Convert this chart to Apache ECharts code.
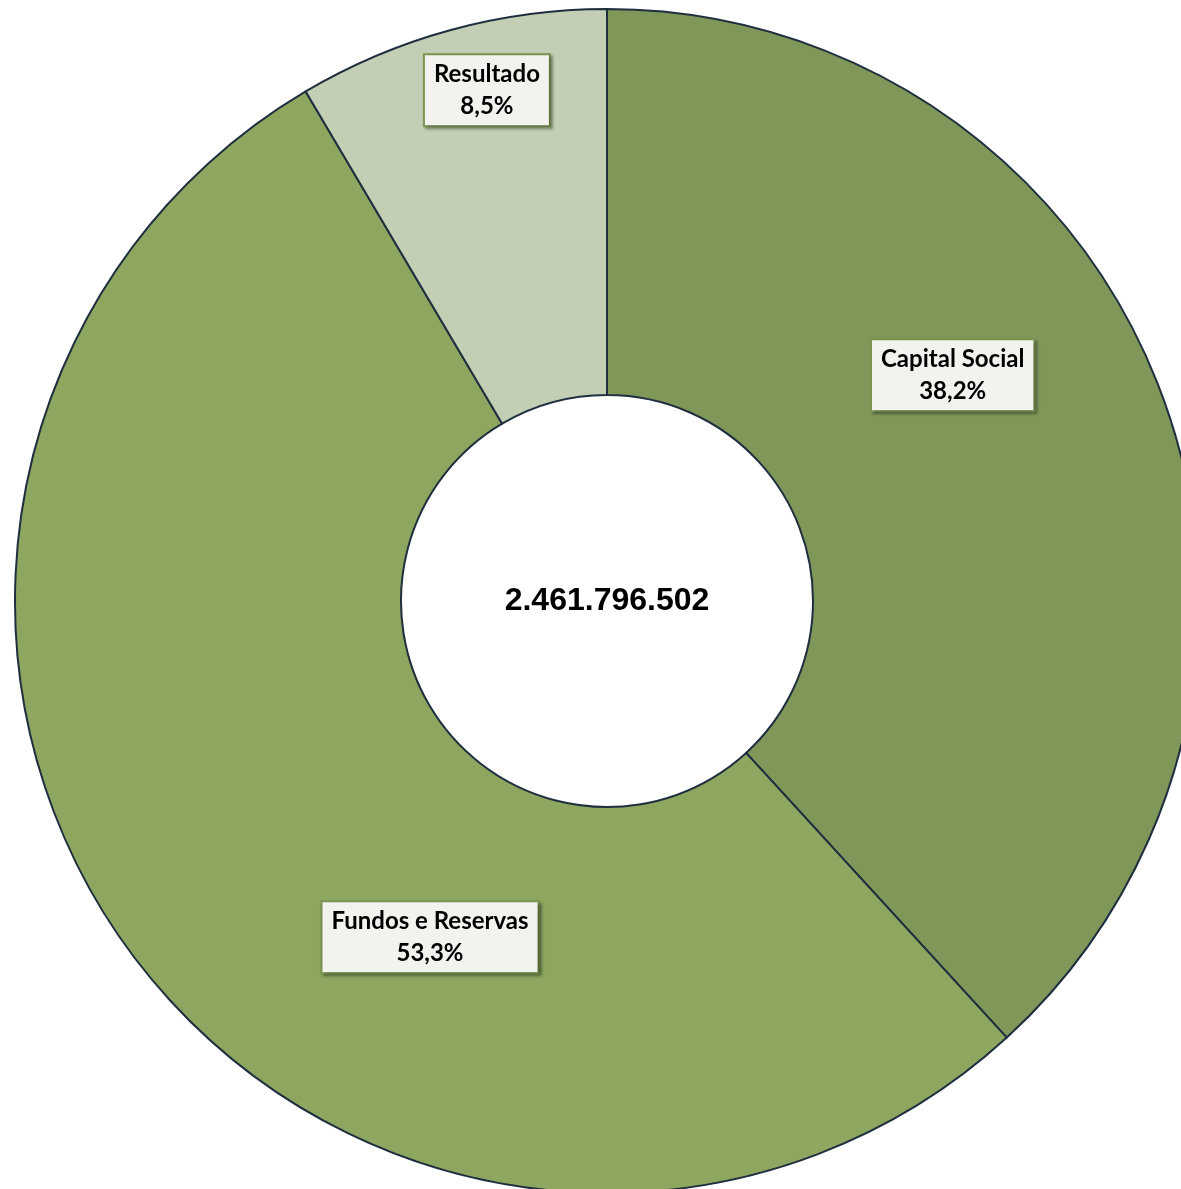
<!DOCTYPE html>
<html>
<head>
<meta charset="utf-8">
<style>html,body{margin:0;padding:0;background:#fff;}#c{width:1181px;height:1189px;}</style>
<script src="https://cdn.jsdelivr.net/npm/echarts@6/dist/echarts.min.js"></script>
</head>
<body>
<div id="c"></div>
<script>
const categories = ['Capital Social', 'Fundos e Reservas', 'Resultado'];
const shares = [38.2, 53.3, 8.5];
const totalLabel = '2.461.796.502';
const colors = ['#7f9859', '#8da760', '#c3cfb4'];
const labelOffsets = [[-29, -80], [146, 97], [-14, -123]];

const chart = echarts.init(document.getElementById('c'));
chart.setOption({
  animation: false,
  series: [{
    type: 'pie',
    center: [607, 601],
    radius: [206, 592],
    startAngle: 90,
    clockwise: true,
    avoidLabelOverlap: false,
    itemStyle: { borderColor: '#1f2f3f', borderWidth: 2 },
    label: {
      show: true,
      position: 'inside',
      formatter: p => p.name + '\n' + p.value.toFixed(1).replace('.', ',') + '%',
      fontFamily: 'Lato',
      fontWeight: 'bold',
      fontSize: 24,
      lineHeight: 32,
      color: '#000',
      backgroundColor: '#f2f3ee',
      borderColor: '#7a9650',
      borderWidth: 2,
      padding: [3, 9, 3, 9],
      shadowColor: 'rgba(0,0,0,0.35)',
      shadowBlur: 3,
      shadowOffsetX: 2,
      shadowOffsetY: 2
    },
    labelLine: { show: false },
    emphasis: { disabled: true },
    data: categories.map((n, i) => ({
      name: n, value: shares[i],
      itemStyle: { color: colors[i] },
      label: { offset: labelOffsets[i] }
    }))
  }],
  graphic: [{
    type: 'text',
    x: 607, y: 601,
    style: {
      text: totalLabel,
      textAlign: 'center', textVerticalAlign: 'middle',
      font: 'bold 32px "Liberation Sans", Arial',
      fill: '#000'
    }
  }]
});
</script>
</body>
</html>
